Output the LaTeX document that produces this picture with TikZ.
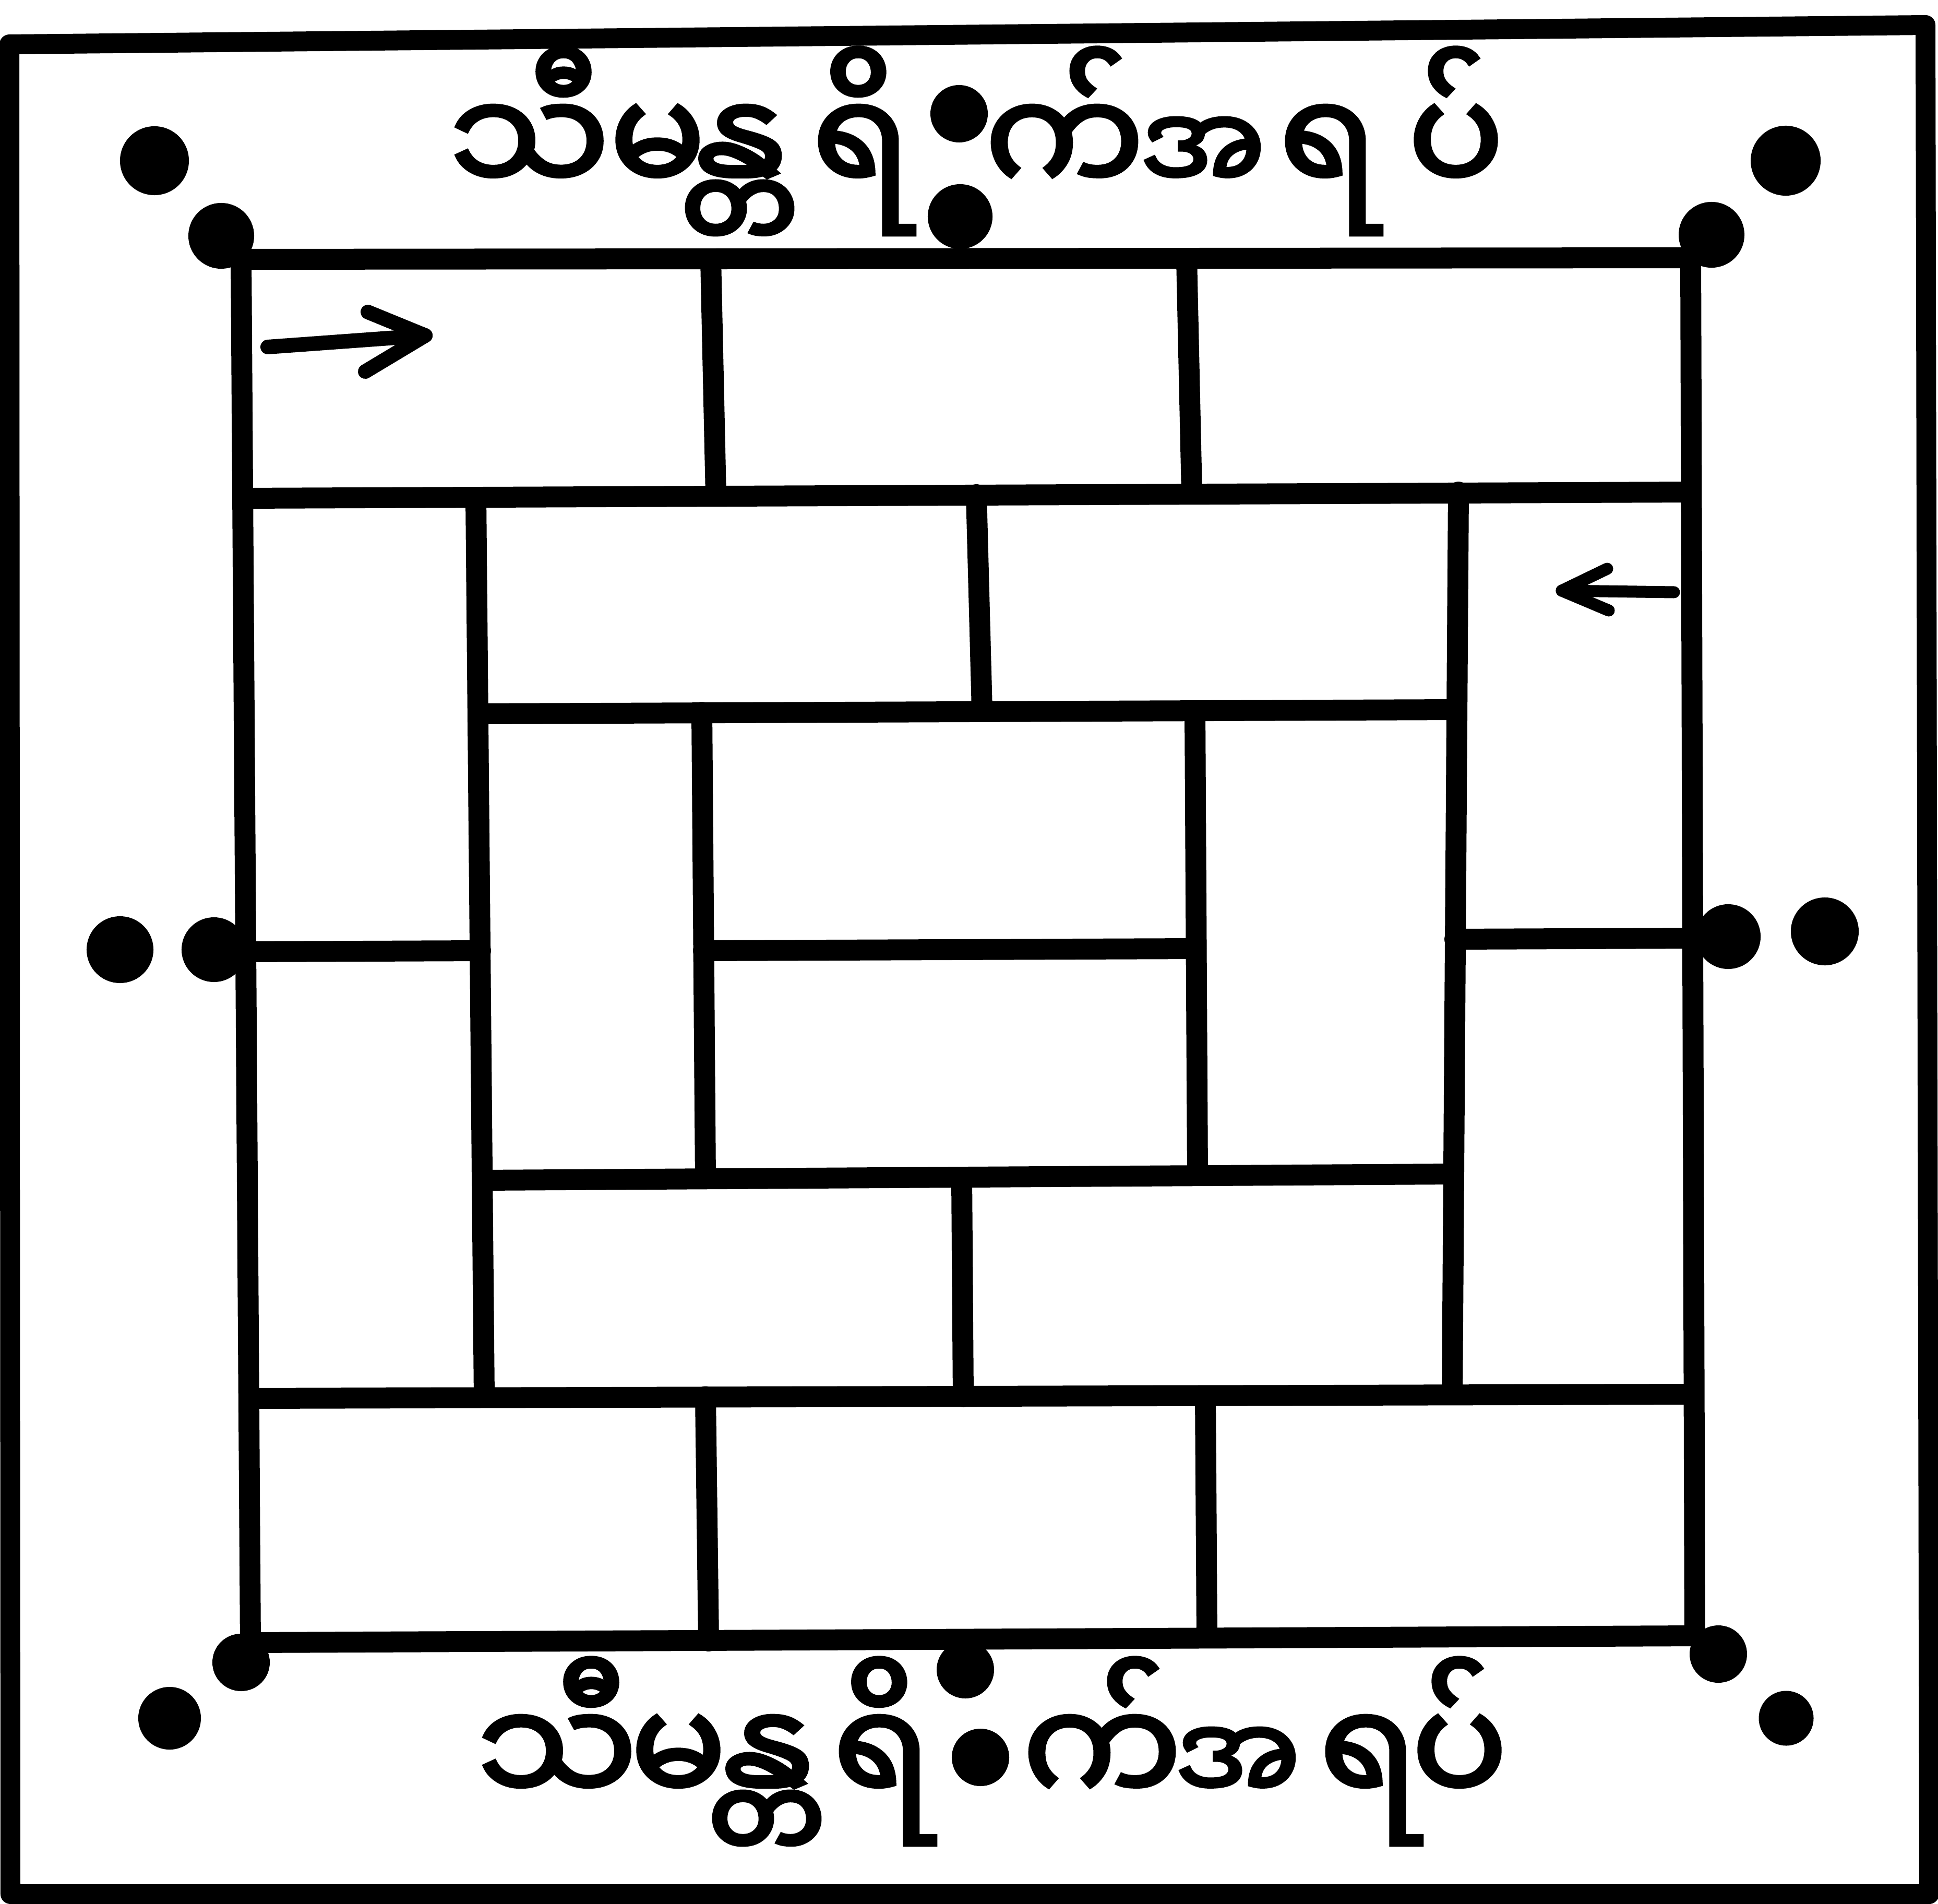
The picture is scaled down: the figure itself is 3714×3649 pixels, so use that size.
\documentclass[tikz,border=0pt]{standalone}
\usepackage{fontspec}
\newfontfamily\mya[Script=Myanmar, FakeBold=3]{Noto Sans Myanmar UI}
\begin{document}
\begin{tikzpicture}[x=0.01cm,y=-0.01cm,
  wall/.style={line width=0.4cm, line cap=round, line join=round},
  frame/.style={line width=0.38cm, line join=round},
  bigdot/.style={circle, fill=black, inner sep=0pt, minimum size=1.3cm},
  glyph/.style={anchor=base, inner sep=0pt, font=\mya\fontsize{77pt}{90pt}\selectfont},
  glyphsm/.style={glyph, font=\mya\fontsize{64pt}{80pt}\selectfont},
  arr/.style={line width=0.28cm, line cap=round, line join=round}]
\useasboundingbox (0,0) rectangle (3714,3649);
\fill[white] (0,0) rectangle (3714,3649);
% outer frame
\draw[frame] (18,85) -- (3690,48) -- (3697,3630) -- (20,3630) -- cycle;
% outer grid
\draw[wall] (462,497) -- (3240,494) -- (3248,3135) -- (480,3148) -- cycle;
% long rows
\draw[wall] (466,955) -- (3240,943);
\draw[wall] (478,2680) -- (3245,2672);
% inner rows
\draw[wall] (919,1368) -- (2790,1360);
\draw[wall] (925,2262) -- (2785,2250);
% short splits
\draw[wall] (470,1824) -- (921,1822);
\draw[wall] (2788,1800) -- (3244,1798);
\draw[wall] (1348,1822) -- (2292,1818);
% verticals
\draw[wall] (1362,497) -- (1372,950);
\draw[wall] (2274,495) -- (2284,945);
\draw[wall] (912,953) -- (928,2677);
\draw[wall] (2795,943) -- (2783,2672);
\draw[wall] (1871,948) -- (1882,1362);
\draw[wall] (1345,1365) -- (1352,2258);
\draw[wall] (2290,1362) -- (2295,2252);
\draw[wall] (1843,2258) -- (1846,2677);
\draw[wall] (1352,2677) -- (1358,3145);
\draw[wall] (2310,2675) -- (2313,3138);
% arrows
\coordinate (ra1) at (513,665); \coordinate (ra2) at (815,643);
\coordinate (ra3) at (705,598); \coordinate (ra4) at (700,712);
\draw[arr] (ra1) -- (ra2);
\draw[arr] (ra3) -- (ra2) -- (ra4);
\coordinate (la1) at (3208,1135); \coordinate (la2) at (2993,1132);
\coordinate (la3) at (3080,1090); \coordinate (la4) at (3083,1170);
\draw[arr, line width=0.23cm] (la1) -- (la2);
\draw[arr, line width=0.23cm] (la3) -- (la2) -- (la4);
% dots
\node[bigdot, minimum size=1.32cm] (d1) at (296,308) {};
\node[bigdot, minimum size=1.26cm] (d2) at (424,452) {};
\node[bigdot, minimum size=1.34cm] (d3) at (3422,308) {};
\node[bigdot, minimum size=1.26cm] (d4) at (3280,450) {};
\node[bigdot, minimum size=1.1cm] (d5) at (1838,218) {};
\node[bigdot, minimum size=1.24cm] (d6) at (1840,415) {};
\node[bigdot, minimum size=1.28cm] (d7) at (230,1820) {};
\node[bigdot, minimum size=1.24cm] (d8) at (410,1820) {};
\node[bigdot, minimum size=1.24cm] (d9) at (3312,1795) {};
\node[bigdot, minimum size=1.3cm] (d10) at (3497,1785) {};
\node[bigdot, minimum size=1.1cm] (d11) at (462,3186) {};
\node[bigdot, minimum size=1.2cm] (d12) at (325,3293) {};
\node[bigdot, minimum size=1.1cm] (d13) at (3293,3170) {};
\node[bigdot, minimum size=1.05cm] (d14) at (3423,3293) {};
\node[bigdot, minimum size=1.1cm] (d15) at (1850,3200) {};
\node[bigdot, minimum size=1.1cm] (d16) at (1879,3368) {};
% top text
\node[glyph] (t1) at (1015,376) {သီ};
\node[glyph] (t2) at (1260,376) {မ};
\node[glyph] (t3) at (1406,376) {န္တ};
\node[glyph] (t4) at (1650,376) {ရိ};
\node[glyph] (t5) at (2040,376) {က်};
\node[glyphsm] (t6) at (2305,370) {အ};
\node[glyph] (t7) at (2545,376) {ရ};
\node[glyph] (t8) at (2790,376) {ပ်};
% bottom text
\node[glyph] (b1) at (1068,3462) {သီ};
\node[glyph] (b2) at (1300,3462) {မ};
\node[glyph] (b3) at (1458,3462) {န္တ};
\node[glyph] (b4) at (1690,3462) {ရိ};
\node[glyph] (b5) at (2112,3462) {က်};
\node[glyphsm] (b6) at (2372,3456) {အ};
\node[glyph] (b7) at (2622,3462) {ရ};
\node[glyph] (b8) at (2797,3462) {ပ်};
\end{tikzpicture}
\end{document}
